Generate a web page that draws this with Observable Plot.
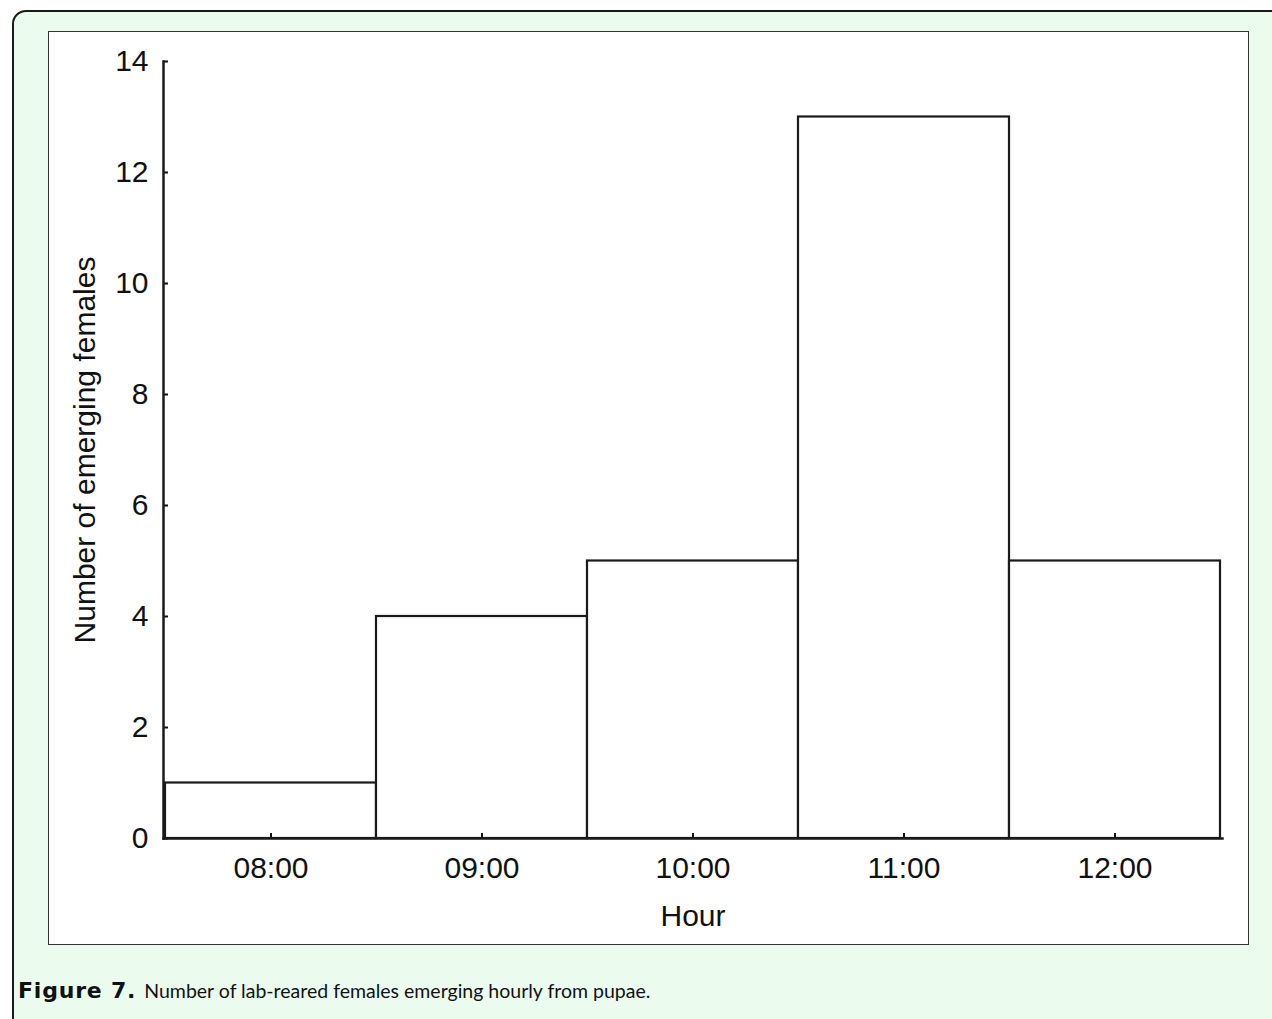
<!DOCTYPE html>
<html>
<head>
<meta charset="utf-8">
<script src="https://cdn.jsdelivr.net/npm/d3@7"></script>
<script src="https://cdn.jsdelivr.net/npm/@observablehq/plot@0.6"></script>
<style>
  html, body { margin: 0; padding: 0; background: #ffffff; width: 1272px; height: 1019px; overflow: hidden; }
  #outer { position: absolute; left: 12px; top: 10px; width: 1300px; height: 1100px; box-sizing: border-box;
    border: 2.5px solid #1a1a1a; border-radius: 14px; background: #ebfcee; }
  #panel { position: absolute; left: 48px; top: 31px; width: 1201px; height: 914px; box-sizing: border-box;
    border: 1.5px solid #333; background: #ffffff; }
  #chart { position: absolute; left: 48px; top: 31px; }
  #caption { position: absolute; left: 18px; top: 978px; font-family: Lato, "Open Sans", sans-serif; font-size: 19.5px; color: #111; white-space: nowrap; }
  #caption b { font-family: "DejaVu Sans", sans-serif; font-weight: bold; font-size: 22px; letter-spacing: 0.8px; margin-right: 3px; }
</style>
</head>
<body>
<div id="outer"></div>
<div id="panel"></div>
<div id="chart"></div>
<div id="caption"><b>Figure 7.</b> Number of lab-reared females emerging hourly from pupae.</div>
<script>
const hours = ["08:00", "09:00", "10:00", "11:00", "12:00"];
const counts = [1, 4, 5, 13, 5];
const yTicks = [0, 2, 4, 6, 8, 10, 12, 14];
const xTitle = "Hour";
const yTitle = "Number of emerging females";

const data = hours.map((h, i) => ({hour: h, count: counts[i]}));
const font = "'Liberation Sans', Arial, sans-serif";

const chart = Plot.plot({
  width: 1200,
  height: 913,
  marginLeft: 115,
  marginRight: 26,
  marginTop: 30,
  marginBottom: 106,
  style: {fontFamily: font, fontSize: "30px", color: "#111", background: "transparent"},
  x: {domain: hours, padding: 0, label: null},
  y: {domain: [0, 14], label: null},
  marks: [
    Plot.barY(data, {x: "hour", y: "count", fill: "white", stroke: "#1a1a1a", strokeWidth: 2.2, inset: 0}),
    Plot.axisY({ticks: yTicks, tickSize: -5, tickPadding: 20, tickFormat: d => String(d), strokeWidth: 2, fontSize: 30}),
    Plot.axisX({tickSize: -5, tickPadding: 23, strokeWidth: 2, fontSize: 30}),
    Plot.frame({anchor: "left", stroke: "#1a1a1a", strokeWidth: 2.5}),
    Plot.frame({anchor: "bottom", stroke: "#1a1a1a", strokeWidth: 2.5}),
    Plot.text([yTitle], {frameAnchor: "left", rotate: -90, dx: -78, textAnchor: "middle", lineAnchor: "middle", fontSize: 30, fill: "#111"}),
    Plot.text([xTitle], {frameAnchor: "bottom", dy: 78, textAnchor: "middle", lineAnchor: "middle", fontSize: 30, fill: "#111"})
  ]
});
document.getElementById("chart").appendChild(chart);
</script>
</body>
</html>
